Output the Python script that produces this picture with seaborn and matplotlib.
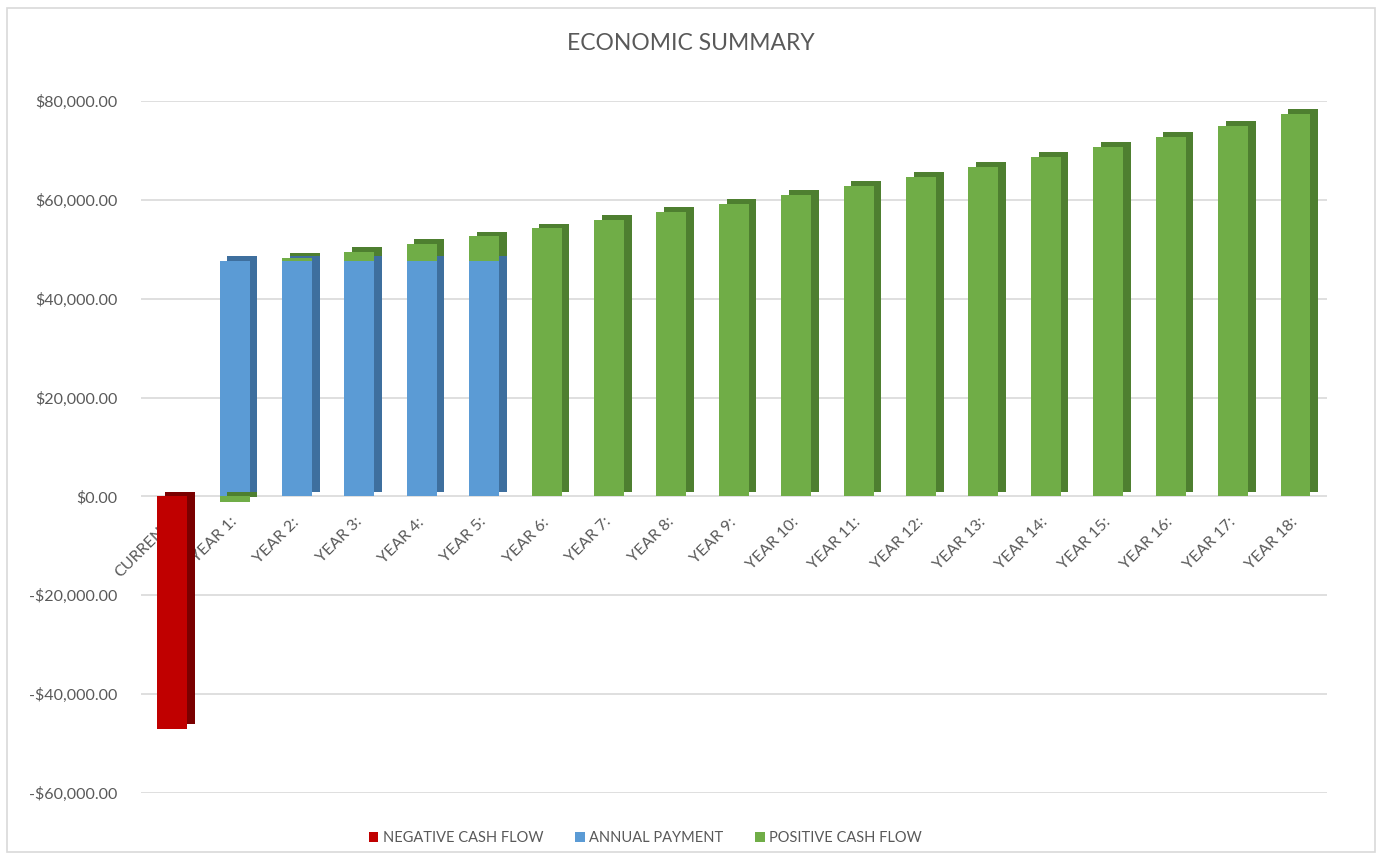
import numpy as np
import pandas as pd
import matplotlib
matplotlib.use("Agg")
import matplotlib.pyplot as plt
import matplotlib.patheffects as pe
from matplotlib.patches import Patch, Rectangle
from matplotlib.ticker import FuncFormatter, MultipleLocator
import seaborn as sns

categories = ["CURRENT:"] + [f"YEAR {i}:" for i in range(1, 19)]
negative_cash_flow = [-47000] + [0] * 18
annual_payment = [0, 47600, 47600, 47600, 47600, 47600] + [0] * 13
positive_cash_flow = [0, -1100, 600, 1900, 3400, 5000,
                      54200, 55900, 57500, 59200, 61000, 62800, 64700,
                      66600, 68600, 70700, 72800, 75000, 77300]
series_names = ["NEGATIVE CASH FLOW", "ANNUAL PAYMENT", "POSITIVE CASH FLOW"]

df = pd.DataFrame({
    "category": categories,
    "negative": negative_cash_flow,
    "annual": annual_payment,
    "positive": positive_cash_flow,
})
df["green_bottom"] = np.where(df["positive"] > 0, df["annual"], 0)

colors = {"neg": "#C00000", "ann": "#5B9BD5", "pos": "#70AD47"}
sides = {"neg": "#7A0000", "ann": "#3E6F9E", "pos": "#4E7F30"}

sns.set_theme(style="white")
plt.rcParams["font.family"] = ["Lato", "DejaVu Sans"]

fig = plt.figure(figsize=(13.82, 8.57), dpi=100)
ax = fig.add_axes([0.102, 0.0747, 0.858, 0.8075])

def shade(c):
    return [pe.SimplePatchShadow(offset=(5.5, 3.5), shadow_rgbFace=c, alpha=1.0), pe.Normal()]

order = categories
bw = 0.48
sns.barplot(data=df, x="category", y="annual", order=order, color=colors["ann"],
            saturation=1, width=bw, errorbar=None, ax=ax, linewidth=0)
n_ann = len(ax.patches)
for p in ax.patches[:n_ann]:
    p.set_path_effects(shade(sides["ann"]))

sns.barplot(data=df, x="category", y="positive", order=order, color=colors["pos"],
            saturation=1, width=bw, errorbar=None, ax=ax, linewidth=0,
            bottom=df["green_bottom"].to_numpy())
n_pos = len(ax.patches)
for p in ax.patches[n_ann:n_pos]:
    p.set_path_effects(shade(sides["pos"]))

sns.barplot(data=df, x="category", y="negative", order=order, color=colors["neg"],
            saturation=1, width=bw, errorbar=None, ax=ax, linewidth=0)
for p in ax.patches[n_pos:]:
    p.set_path_effects(shade(sides["neg"]))

# hide zero-height bars
for p in ax.patches:
    if p.get_height() == 0:
        p.set_visible(False)

ax.set_xlim(-0.5, len(categories) - 0.5)
ax.set_ylim(-60000, 80000)
ax.yaxis.set_major_locator(MultipleLocator(20000))

def money(v, pos):
    s = f"${abs(v):,.2f}"
    return "-" + s if v < 0 else s
ax.yaxis.set_major_formatter(FuncFormatter(money))

ax.grid(axis="y", color="#d9d9d9", linewidth=1.2)
ax.set_axisbelow(True)
for s in ax.spines.values():
    s.set_visible(False)
ax.spines["bottom"].set_position(("data", 0))
ax.set_xlabel("")
ax.set_ylabel("")
ax.tick_params(axis="both", length=0, colors="#595959")
ax.tick_params(axis="y", labelsize=11.5, pad=17)
ax.tick_params(axis="x", labelsize=11.5, pad=17)
for lab in ax.get_xticklabels():
    lab.set_rotation(45)
    lab.set_ha("right")
    lab.set_va("center")
    lab.set_rotation_mode("anchor")

fig.text(0.5, 0.949, "ECONOMIC SUMMARY", ha="center", va="center",
         fontsize=16.5, color="#595959")

handles = [Patch(facecolor=colors[k], edgecolor="none") for k in ["neg", "ann", "pos"]]
fig.legend(handles, series_names, loc="center", bbox_to_anchor=(0.467, 0.022),
           ncol=3, frameon=False, fontsize=10.5, handlelength=0.65, handleheight=0.65,
           handletextpad=0.3, columnspacing=2.2, labelcolor="#595959")

fig.patches.append(Rectangle((0.005, 0.006), 0.99, 0.985, transform=fig.transFigure,
                             fill=False, edgecolor="#d9d9d9", linewidth=1.2))

fig.savefig("out.png", dpi=100, facecolor="white")
